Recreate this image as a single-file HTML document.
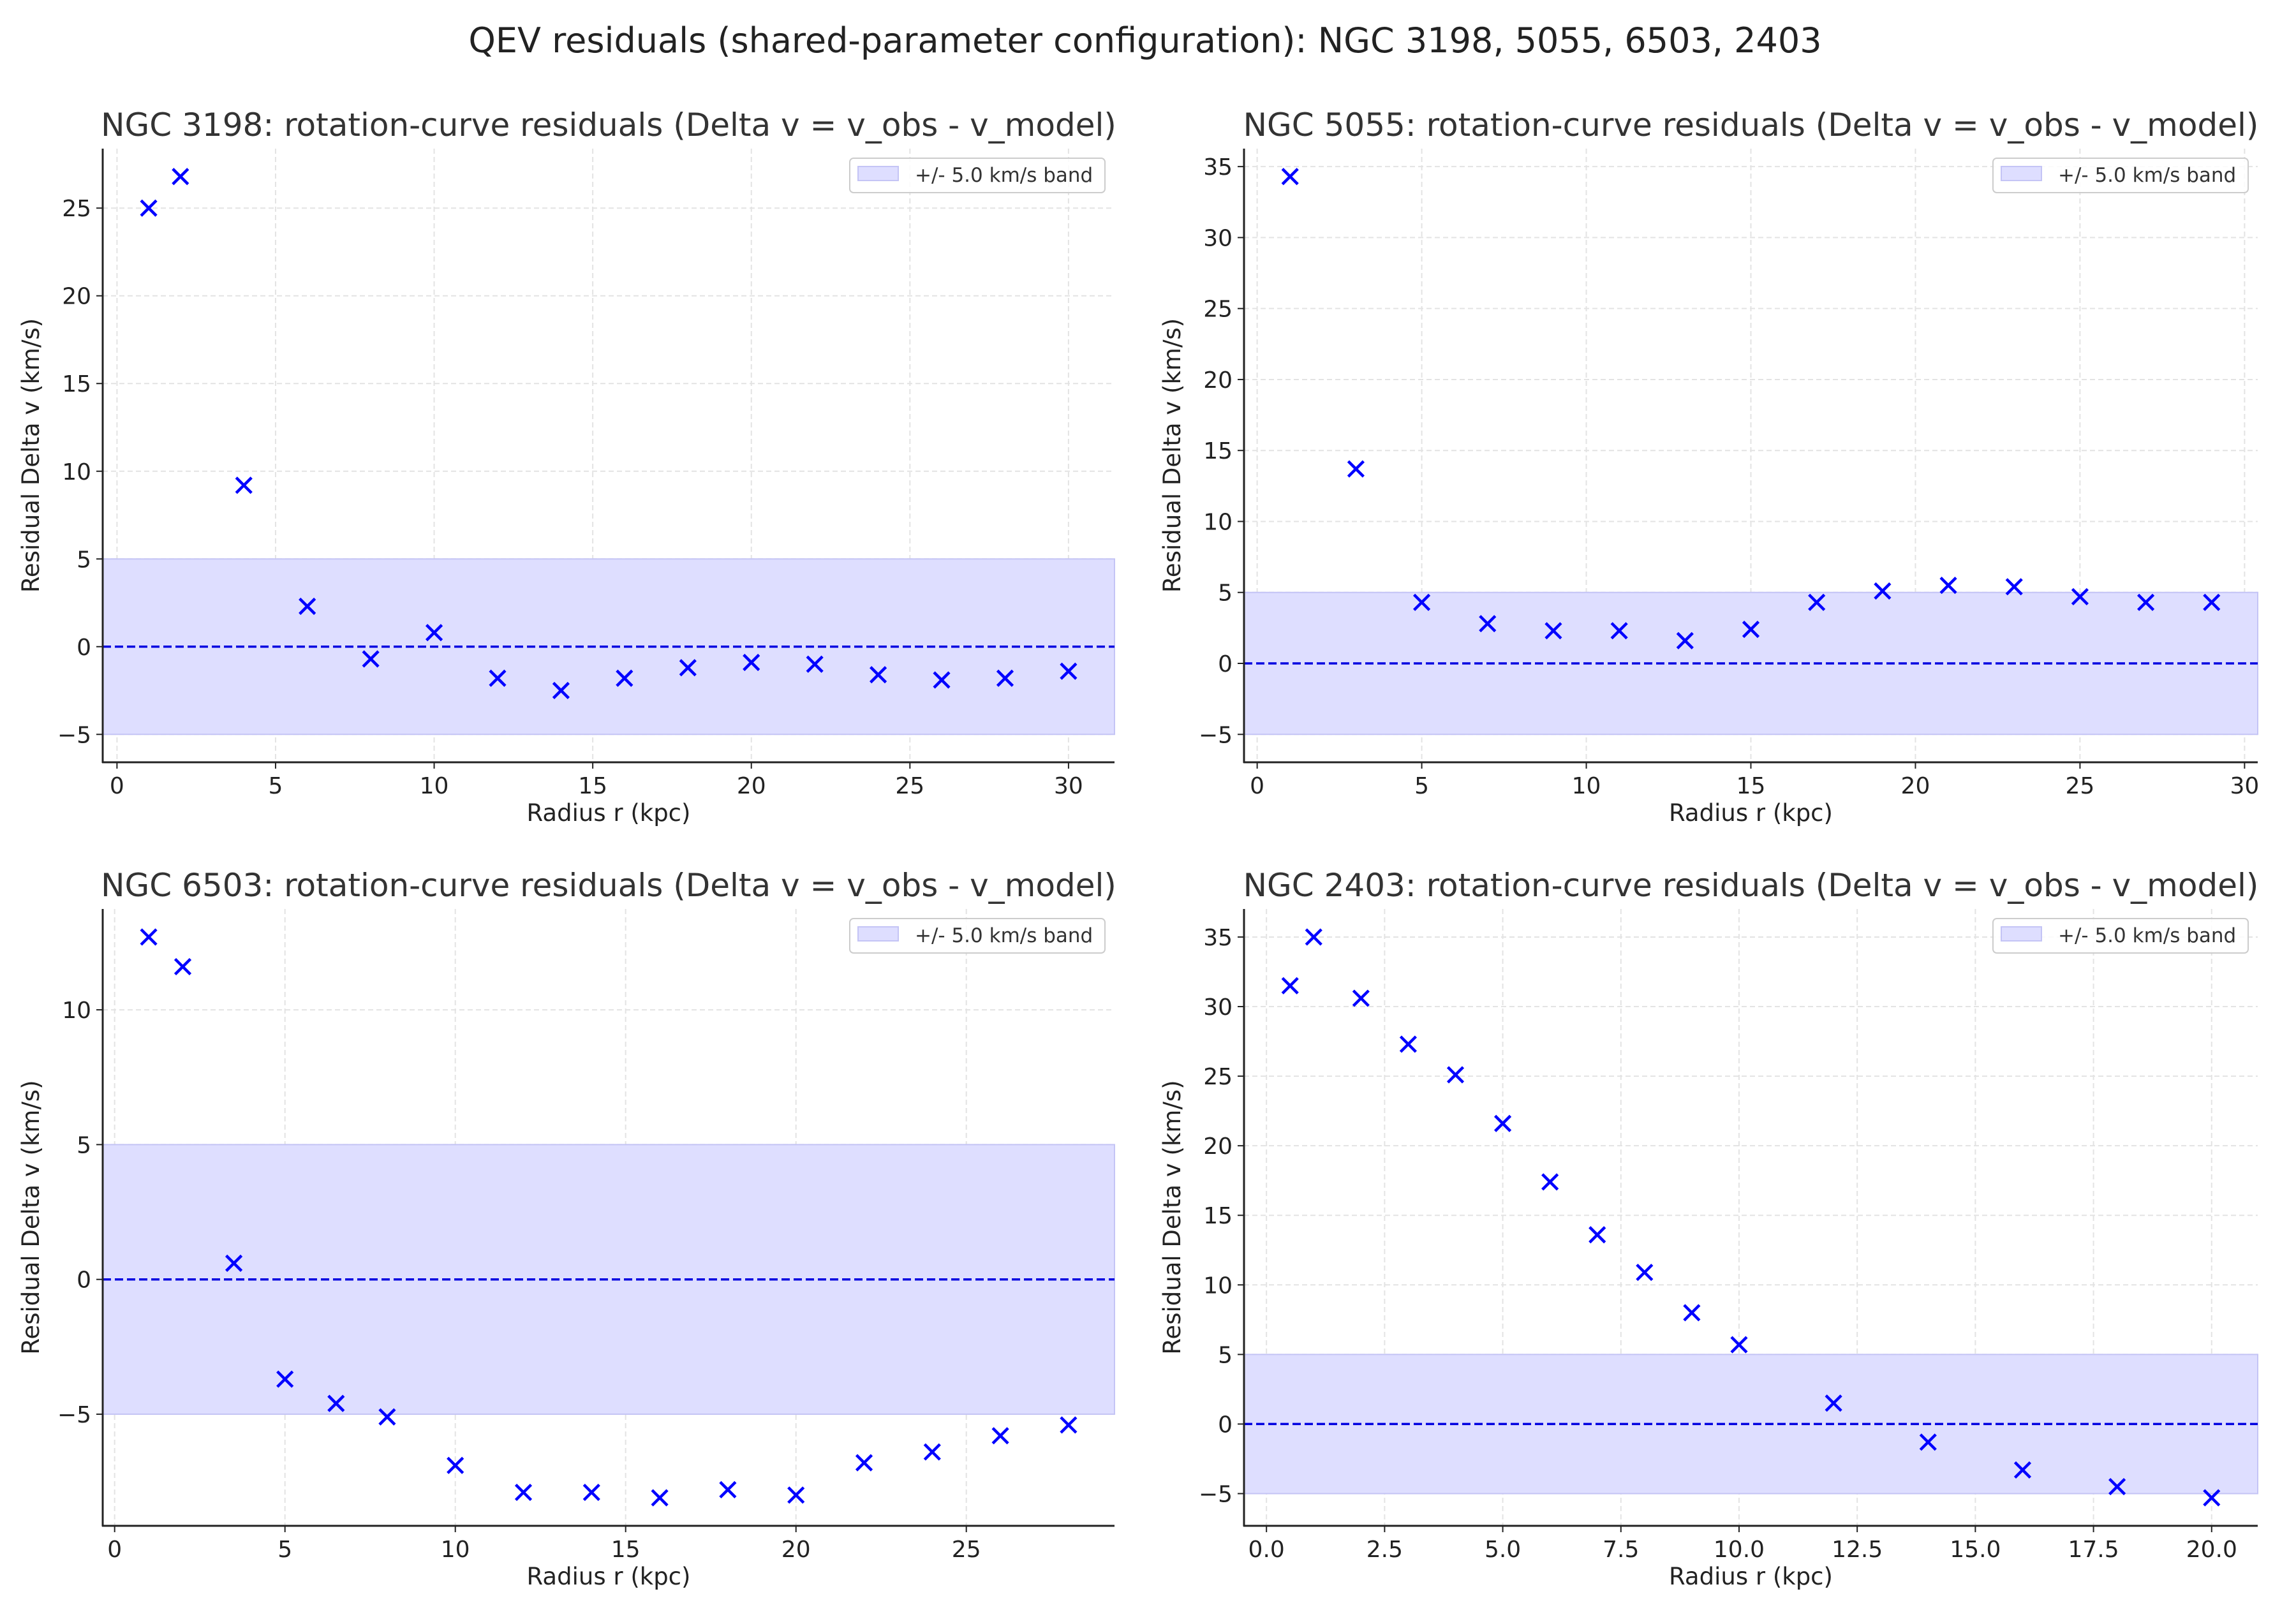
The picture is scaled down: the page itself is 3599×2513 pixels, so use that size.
<!DOCTYPE html>
<html><head><meta charset="utf-8">
<style>
html,body{margin:0;padding:0;background:#fff;}
svg{display:block;font-family:"DejaVu Sans","Liberation Sans",sans-serif;}
</style></head>
<body>
<svg id="fig" width="3599" height="2513" viewBox="0 0 3599 2513" xmlns="http://www.w3.org/2000/svg">
<rect width="3599" height="2513" fill="#fff"/>
<text x="1795" y="82" text-anchor="middle" font-size="54" fill="#222">QEV residuals (shared-parameter configuration): NGC 3198, 5055, 6503, 2403</text>
</svg>
<script>
// NGC 3198
const r3198 = [1,2,4,6,8,10,12,14,16,18,20,22,24,26,28,30];
const dv3198 = [25.0,26.8,9.2,2.3,-0.7,0.8,-1.8,-2.5,-1.8,-1.2,-0.9,-1.0,-1.6,-1.9,-1.8,-1.4];
const xt3198 = [0,5,10,15,20,25,30];
const yt3198 = [-5,0,5,10,15,20,25];
// NGC 5055
const r5055 = [1,3,5,7,9,11,13,15,17,19,21,23,25,27,29];
const dv5055 = [34.3,13.7,4.3,2.8,2.3,2.3,1.6,2.4,4.3,5.1,5.5,5.4,4.7,4.3,4.3];
const xt5055 = [0,5,10,15,20,25,30];
const yt5055 = [-5,0,5,10,15,20,25,30,35];
// NGC 6503
const r6503 = [1,2,3.5,5,6.5,8,10,12,14,16,18,20,22,24,26,28];
const dv6503 = [12.7,11.6,0.6,-3.7,-4.6,-5.1,-6.9,-7.9,-7.9,-8.1,-7.8,-8.0,-6.8,-6.4,-5.8,-5.4];
const xt6503 = [0,5,10,15,20,25];
const yt6503 = [-5,0,5,10];
// NGC 2403
const r2403 = [0.5,1,2,3,4,5,6,7,8,9,10,12,14,16,18,20];
const dv2403 = [31.5,35.0,30.6,27.3,25.1,21.6,17.4,13.6,10.9,8.0,5.7,1.5,-1.3,-3.3,-4.5,-5.3];
const xt2403 = [0,2.5,5,7.5,10,12.5,15,17.5,20];
const yt2403 = [-5,0,5,10,15,20,25,30,35];
const bandHalf = 5.0;

const NS="http://www.w3.org/2000/svg";
const svg=document.getElementById('fig');
function mk(tag,attrs,parent){const e=document.createElementNS(NS,tag);for(const k in attrs)e.setAttribute(k,attrs[k]);(parent||svg).appendChild(e);return e;}
function fmt(v,dec){const s=v.toFixed(dec);return v<0?'\u2212'+s.slice(1):s;}

function panel(name,key,xs,ys,xt,yt,dec,L,R,T,B){
  const g=mk('g',{});
  
  
  const xr=xs[xs.length-1]-xs[0];
  const x0=xs[0]-xr*0.05,x1=xs[xs.length-1]+xr*0.05;
  const ymin=Math.min(-bandHalf,...ys),ymax=Math.max(bandHalf,...ys),yr=ymax-ymin;
  const y0=ymin-yr*0.05,y1=ymax+yr*0.05;
  const X=v=>L+(v-x0)/(x1-x0)*(R-L);
  const Y=v=>B-(v-y0)/(y1-y0)*(B-T);
  xt.forEach(t=>{const l=mk('line',{x1:X(t),x2:X(t),y1:T,y2:B,stroke:'#e3e3e3','stroke-width':2,'stroke-dasharray':'8,5'},g);
    });
  yt.forEach(t=>{const l=mk('line',{x1:L,x2:R,y1:Y(t),y2:Y(t),stroke:'#e3e3e3','stroke-width':2,'stroke-dasharray':'8,5'},g);
    });
  const band=mk('rect',{x:L,y:Y(bandHalf),width:R-L,height:Y(-bandHalf)-Y(bandHalf),fill:'#dedeff',stroke:'#c4c4f5','stroke-width':2},g);
  
  
  const zl=mk('line',{x1:L,x2:R,y1:Y(0),y2:Y(0),stroke:'#0000e0','stroke-width':3.5,'stroke-dasharray':'13,6'},g);
  
  
  xs.forEach((v,i)=>{const cx=X(v),cy=Y(ys[i]),s=12;
    const p=mk('path',{d:`M${cx-s},${cy-s}L${cx+s},${cy+s}M${cx-s},${cy+s}L${cx+s},${cy-s}`,stroke:'#0000ff','stroke-width':4.5,fill:'none'},g);
    
    });
  mk('line',{x1:L,x2:L,y1:T,y2:B+1,stroke:'#222','stroke-width':3},g);
  mk('line',{x1:L-1,x2:R,y1:B,y2:B,stroke:'#222','stroke-width':3},g);
  xt.forEach(t=>{mk('line',{x1:X(t),x2:X(t),y1:B,y2:B+10,stroke:'#222','stroke-width':2},g);
    const tx=mk('text',{x:X(t),y:B+49,'text-anchor':'middle','font-size':36,fill:'#222'},g);tx.textContent=fmt(t,dec);
    });
  yt.forEach(t=>{mk('line',{x1:L-10,x2:L,y1:Y(t),y2:Y(t),stroke:'#222','stroke-width':2},g);
    const tx=mk('text',{x:L-18,y:Y(t)+13,'text-anchor':'end','font-size':36,fill:'#222'},g);tx.textContent=fmt(t,0);
    });
  const ti=mk('text',{x:(L+R)/2,y:T-20,'text-anchor':'middle','font-size':50,fill:'#333'},g);
  ti.textContent=name+': rotation-curve residuals (Delta v = v_obs - v_model)';
  
  
  const xl=mk('text',{x:(L+R)/2,y:B+92,'text-anchor':'middle','font-size':37,fill:'#222'},g);
  xl.textContent='Radius r (kpc)';
  
  
  const yl=mk('text',{x:0,y:0,'text-anchor':'middle','font-size':37,fill:'#222',transform:`translate(${L-100},${(T+B)/2}) rotate(-90)`},g);
  yl.textContent='Residual Delta v (km/s)';
  
  
  const lg=mk('g',{},g);
  
  
  mk('rect',{x:R-415,y:T+15,width:400,height:54,rx:6,fill:'#fff','fill-opacity':0.85,stroke:'#ccc','stroke-width':2},lg);
  mk('rect',{x:R-402,y:T+28,width:63,height:22,fill:'#dedeff',stroke:'#c4c4f5','stroke-width':2},lg);
  const lt=mk('text',{x:R-313,y:T+52,'font-size':31,fill:'#333'},lg);
  lt.textContent='+/- 5.0 km/s band';
  
  
}
panel('NGC 3198','ngc3198',r3198,dv3198,xt3198,yt3198,0,161,1747,233,1195);
panel('NGC 5055','ngc5055',r5055,dv5055,xt5055,yt5055,0,1950,3539,233,1195);
panel('NGC 6503','ngc6503',r6503,dv6503,xt6503,yt6503,0,161,1747,1425,2392);
panel('NGC 2403','ngc2403',r2403,dv2403,xt2403,yt2403,1,1950,3539,1425,2392);
</script>
</body></html>
